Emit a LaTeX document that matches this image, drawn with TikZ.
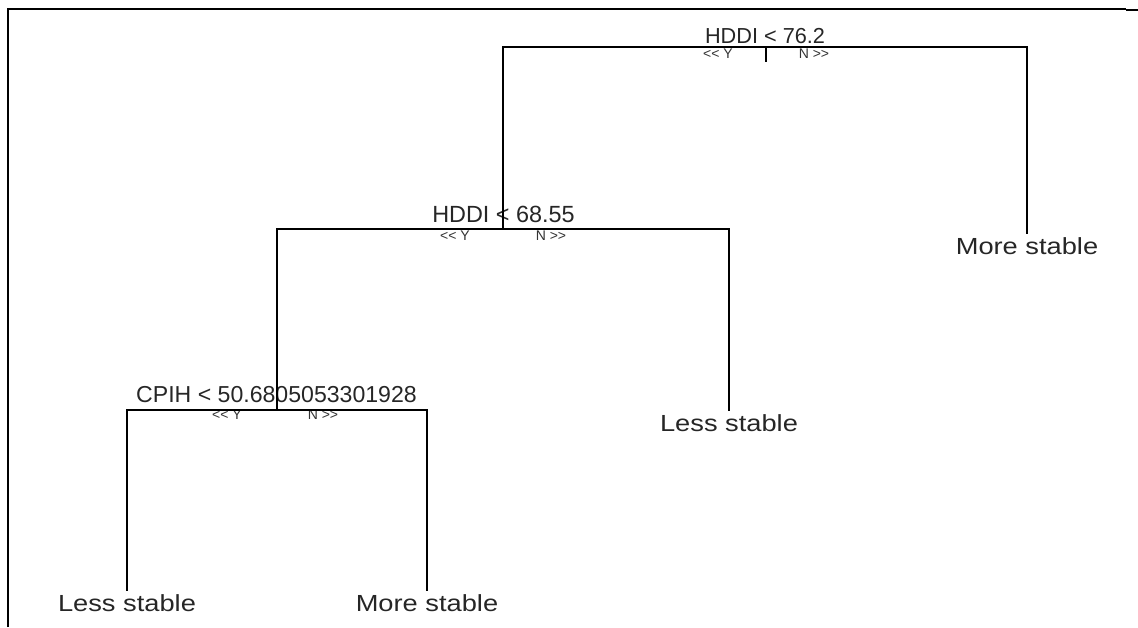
\documentclass[tikz,border=0pt]{standalone}
\usepackage{fontspec}
\setmainfont{Liberation Sans}[Ligatures=TeXOff]
\usetikzlibrary{calc}
\begin{document}
\begin{tikzpicture}[x=1pt,y=-1pt,
  edge/.style={line width=1.4pt,black},
  frame/.style={line width=1.5pt,black},
  splitlabel/.style={anchor=base,inner sep=0pt,text=black!85},
  dirlabel/.style={anchor=base,inner sep=0pt,text=black!80,font=\fontsize{14}{16}\selectfont},
  leaf/.style={anchor=base,inner xsep=0pt,inner ysep=4pt,text=black!85,font=\fontsize{23.3}{26}\selectfont}]
\useasboundingbox (0,0) rectangle (1138,627);

% outer frame (left and top sides)
\draw[frame] (8,627) -- (8,9) -- (1126,9);
\draw[line width=2pt] (1126,10) -- (1138,10);

% split points
\coordinate (n1) at (766,47);
\coordinate (n2) at (503,229);
\coordinate (n3) at (277,410);
\coordinate (n1tick) at (766,62);

% split conditions
\node[splitlabel,font=\fontsize{21.7}{24}\selectfont] (t1) at (765,43) {HDDI < 76.2};
\node[splitlabel,font=\fontsize{23.4}{26}\selectfont] (t2) at (503.5,222) {HDDI < 68.55};
\node[splitlabel,font=\fontsize{23.1}{26}\selectfont] (t3) at (276.5,402) {CPIH < 50.6805053301928};

% branch directions
\node[dirlabel] (y1) at ($(n1)+(-48,11.5)$) {<< Y};
\node[dirlabel] (m1) at ($(n1)+(48,11.5)$) {N >>};
\node[dirlabel] (y2) at ($(n2)+(-48,11.5)$) {<< Y};
\node[dirlabel] (m2) at ($(n2)+(48,11.5)$) {N >>};
\node[dirlabel] (y3) at ($(n3)+(-50,9.5)$) {<< Y};
\node[dirlabel] (m3) at ($(n3)+(46,9.5)$) {N >>};

% leaves
\node[leaf] (L1) at (1027,254.7) {\scalebox{1.17}[1]{More stable}};
\node[leaf] (L2) at (729,431.7) {\scalebox{1.17}[1]{Less stable}};
\node[leaf] (L3) at (127,611.7) {\scalebox{1.17}[1]{Less stable}};
\node[leaf] (L4) at (427,611.7) {\scalebox{1.17}[1]{More stable}};

% tree edges
\draw[edge] (n2) |- (n1) -| (L1.north);
\draw[edge] (n3) |- (n2) -| (L2.north);
\draw[edge] (L3.north) |- (n3) -| (L4.north);
\draw[line width=2pt] (n1) -- (n1tick);
\end{tikzpicture}
\end{document}
